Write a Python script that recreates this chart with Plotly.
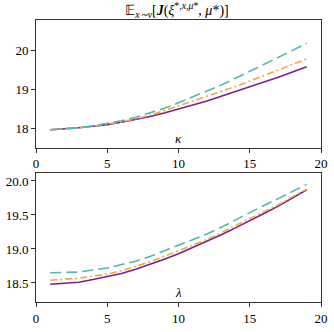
import plotly.graph_objects as go
from plotly.subplots import make_subplots

# x grid shared by both panels
steps = list(range(1, 20))

# top panel (kappa)
kappa_solid = [17.97, 17.99, 18.02, 18.06, 18.10, 18.16, 18.23, 18.31, 18.40, 18.50,
               18.60, 18.71, 18.83, 18.95, 19.07, 19.19, 19.32, 19.45, 19.59]
kappa_dashdot = [17.97, 17.99, 18.02, 18.06, 18.11, 18.17, 18.25, 18.34, 18.46, 18.58,
                 18.70, 18.82, 18.95, 19.08, 19.22, 19.36, 19.50, 19.64, 19.79]
kappa_dash = [17.97, 17.99, 18.02, 18.07, 18.13, 18.20, 18.29, 18.40, 18.52, 18.66,
              18.81, 18.96, 19.12, 19.29, 19.47, 19.64, 19.82, 20.00, 20.19]

# bottom panel (lambda)
lam_solid = [18.48, 18.49, 18.51, 18.55, 18.59, 18.64, 18.70, 18.77, 18.85, 18.93,
             19.02, 19.11, 19.21, 19.31, 19.41, 19.52, 19.63, 19.75, 19.87]
lam_dashdot = [18.54, 18.55, 18.57, 18.60, 18.63, 18.68, 18.74, 18.81, 18.89, 18.97,
               19.05, 19.14, 19.24, 19.34, 19.44, 19.54, 19.65, 19.77, 19.88]
lam_dash = [18.65, 18.65, 18.66, 18.69, 18.72, 18.77, 18.82, 18.89, 18.97, 19.05,
            19.13, 19.22, 19.32, 19.43, 19.54, 19.64, 19.74, 19.85, 19.95]

PURPLE = "#7b1f8e"
ORANGE = "#f6a73c"
TEAL = "#4fb8b0"
FONT = "Liberation Serif, serif"

fig = make_subplots(rows=2, cols=1, vertical_spacing=0.09)

for row, (solid, dashdot, dash) in enumerate(
    [(kappa_solid, kappa_dashdot, kappa_dash), (lam_solid, lam_dashdot, lam_dash)], start=1
):
    fig.add_trace(go.Scatter(x=steps, y=solid, mode="lines",
                             line=dict(color=PURPLE, width=1.6)), row=row, col=1)
    fig.add_trace(go.Scatter(x=steps, y=dashdot, mode="lines",
                             line=dict(color=ORANGE, width=1.6, dash="7px,3px,2px,3px")),
                  row=row, col=1)
    fig.add_trace(go.Scatter(x=steps, y=dash, mode="lines",
                             line=dict(color=TEAL, width=1.6, dash="11px,5px")),
                  row=row, col=1)

axis_style = dict(showline=True, linecolor="#333", linewidth=1, mirror=True,
                  ticks="outside", ticklen=4, tickcolor="#333", showgrid=False,
                  zeroline=False, tickfont=dict(family=FONT, size=13, color="black"))

fig.update_xaxes(range=[0, 20], tickvals=[0, 5, 10, 15, 20], **axis_style)
fig.update_yaxes(**axis_style)
fig.update_layout(
    xaxis=dict(domain=[0, 1]),
    yaxis=dict(domain=[0.5476, 1.0], range=[17.51, 20.79], tickvals=[18, 19, 20]),
    yaxis2=dict(domain=[0, 0.4558], range=[18.22, 20.11],
                tickvals=[18.5, 19.0, 19.5, 20.0], tickformat=".1f"),
)

fig.add_annotation(text="<i>κ</i>", x=10, y=17.51, xref="x", yref="y",
                   yanchor="bottom", showarrow=False,
                   font=dict(family=FONT, size=13, color="black"))
fig.add_annotation(text="<i>λ</i>", x=10, y=18.22, xref="x2", yref="y2",
                   yanchor="bottom", showarrow=False,
                   font=dict(family=FONT, size=13, color="black"))

fig.update_layout(
    width=334, height=332,
    margin=dict(l=30, r=6, t=20, b=18),
    showlegend=False,
    font=dict(family=FONT, color="black"),
    plot_bgcolor="white", paper_bgcolor="white",
    title=dict(text="𝔼<sub><i>x∼ν</i></sub>[<b><i>J</i></b>(<i>ξ</i><sup>*,<i>x</i>,<i>μ</i>*</sup>, <i>μ</i>*)]",
               x=0.53, xanchor="center", y=0.985, yanchor="top",
               font=dict(family=FONT, size=14, color="black")),
)

# drop the default body margin so the figure sits at the window corner
fig.write_html("out.html", config={"displayModeBar": False},
               post_script="document.body.style.margin='0';")
